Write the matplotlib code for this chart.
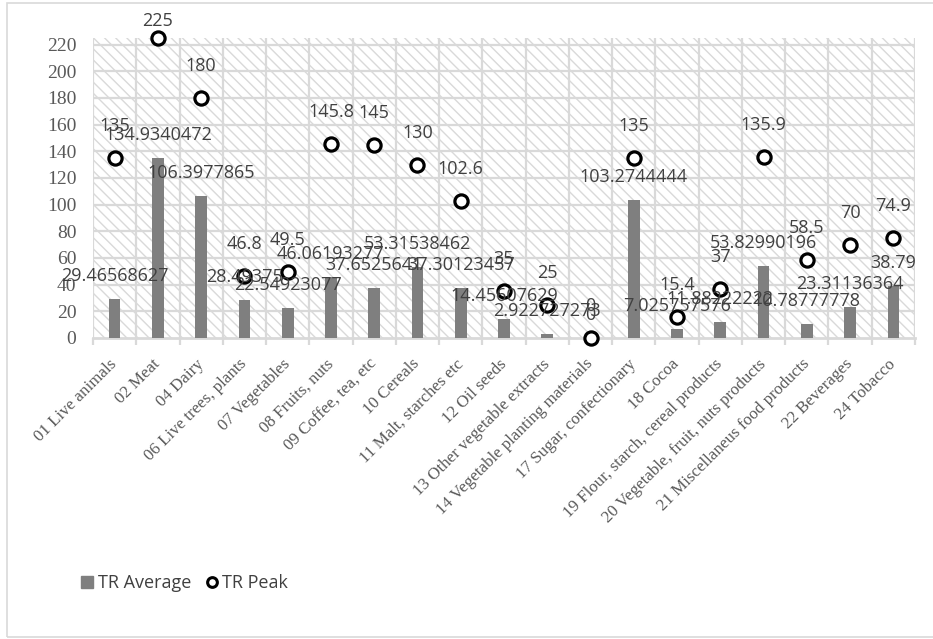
import matplotlib
matplotlib.use("Agg")
import matplotlib.pyplot as plt
from matplotlib.patches import Rectangle
from matplotlib.lines import Line2D
import numpy as np

categories = ["01 Live animals", "02 Meat", "04 Dairy", "06 Live trees, plants",
              "07 Vegetables", "08 Fruits, nuts", "09 Coffee, tea, etc", "10 Cereals",
              "11 Malt, starches etc", "12 Oil seeds", "13 Other vegetable extracts",
              "14 Vegetable planting materials", "17 Sugar, confectionary", "18 Cocoa",
              "19 Flour, starch, cereal products", "20 Vegetable, fruit, nuts products",
              "21 Miscellaneus food products", "22 Beverages", "24 Tobacco"]
tr_average = [29.46568627, 134.9340472, 106.3977865, 28.49375, 22.54923077,
              46.06193277, 37.6525641, 53.31538462, 37.30123457, 14.45607629,
              2.922727273, 0, 103.2744444, 7.025757576, 11.88222222,
              53.82990196, 10.78777778, 23.31136364, 38.79]
tr_peak = [135, 225, 180, 46.8, 49.5, 145.8, 145, 130, 102.6, 35, 25, 0,
           135, 15.4, 37, 135.9, 58.5, 70, 74.9]

grid_c = "#d9d9d9"
text_c = "#404040"
axis_txt_c = "#595959"
plt.rcParams["hatch.color"] = grid_c
plt.rcParams["hatch.linewidth"] = 1.0

W, H, DPI = 933, 639, 100
fig = plt.figure(figsize=(W / DPI, H / DPI), dpi=DPI)
fig.patches.append(Rectangle((7 / W, 2 / H), 940 / W, 634 / H, transform=fig.transFigure,
                             fill=False, edgecolor=grid_c, linewidth=1.2))

ax = fig.add_axes([93 / W, 1 - 338 / H, (915 - 93) / W, 300 / H])
x = np.arange(len(categories))
ax.set_xlim(-0.5, len(categories) - 0.5)
ax.set_ylim(0, 225)

# hatched plot background
ax.add_patch(Rectangle((0, 0), 1, 1, transform=ax.transAxes, facecolor="white",
                       edgecolor=grid_c, hatch="\\\\\\", linewidth=0, zorder=0))

for yv in range(20, 221, 20):
    ax.axhline(yv, color=grid_c, lw=1.6, zorder=1)
for xv in np.arange(-0.5, len(categories), 1.0):
    ax.axvline(xv, color=grid_c, lw=1.6, zorder=1)
ax.axhline(0, color=grid_c, lw=2, zorder=1, clip_on=False)

ax.bar(x, tr_average, width=0.27, color="#7f7f7f", zorder=3)
ax.plot(x, tr_peak, linestyle="none", marker="o", markersize=9.5,
        markerfacecolor="white", markeredgecolor="black", markeredgewidth=2.3,
        zorder=4, clip_on=False)

for s in ax.spines.values():
    s.set_visible(False)

ax.set_yticks(range(0, 221, 20))
ax.set_yticklabels([str(v) for v in range(0, 221, 20)], family="Liberation Serif",
                   fontsize=14, color=axis_txt_c)
ax.tick_params(axis="y", length=0, pad=12)
ax.set_xticks(x)
ax.set_xticklabels(categories, rotation=45, ha="right", va="center",
                   rotation_mode="anchor", family="Liberation Serif",
                   fontsize=12.2, color=axis_txt_c)
ax.tick_params(axis="x", length=0, pad=17)
ax.set_xticks(np.arange(-0.5, len(categories), 1.0), minor=True)
ax.tick_params(axis="x", which="minor", length=5, width=1.6, color=grid_c)

# data labels
px2pt = 72 / DPI
for i in range(len(categories)):
    ax.annotate(f"{tr_average[i]:.10g}", (i, tr_average[i]), xytext=(0, 23 * px2pt),
                textcoords="offset points", ha="center", va="center",
                fontsize=13, family="Open Sans", color=text_c, zorder=5,
                annotation_clip=False)
for i in range(len(categories)):
    ypx = H - 338 + tr_peak[i] * 300 / 225
    off = min(32, (H - 21) - ypx)
    ax.annotate(f"{tr_peak[i]:g}", (i, tr_peak[i]), xytext=(0, off * px2pt),
                textcoords="offset points", ha="center", va="center",
                fontsize=13, family="Open Sans", color=text_c, zorder=5,
                annotation_clip=False)

handles = [Line2D([], [], linestyle="none", marker="s", markersize=8,
                  color="#7f7f7f"),
           Line2D([], [], linestyle="none", marker="o", markersize=7,
                  markerfacecolor="white", markeredgecolor="black",
                  markeredgewidth=2.2)]
fig.legend(handles, ["TR Average", "TR Peak"], loc="center left",
           bbox_to_anchor=(64 / W, 1 - 583 / H), ncol=2, frameon=False,
           handlelength=0.8, handletextpad=0.2, columnspacing=0.7,
           prop={"family": "Open Sans", "size": 13}, labelcolor=text_c)

fig.savefig("out.png", dpi=DPI)
